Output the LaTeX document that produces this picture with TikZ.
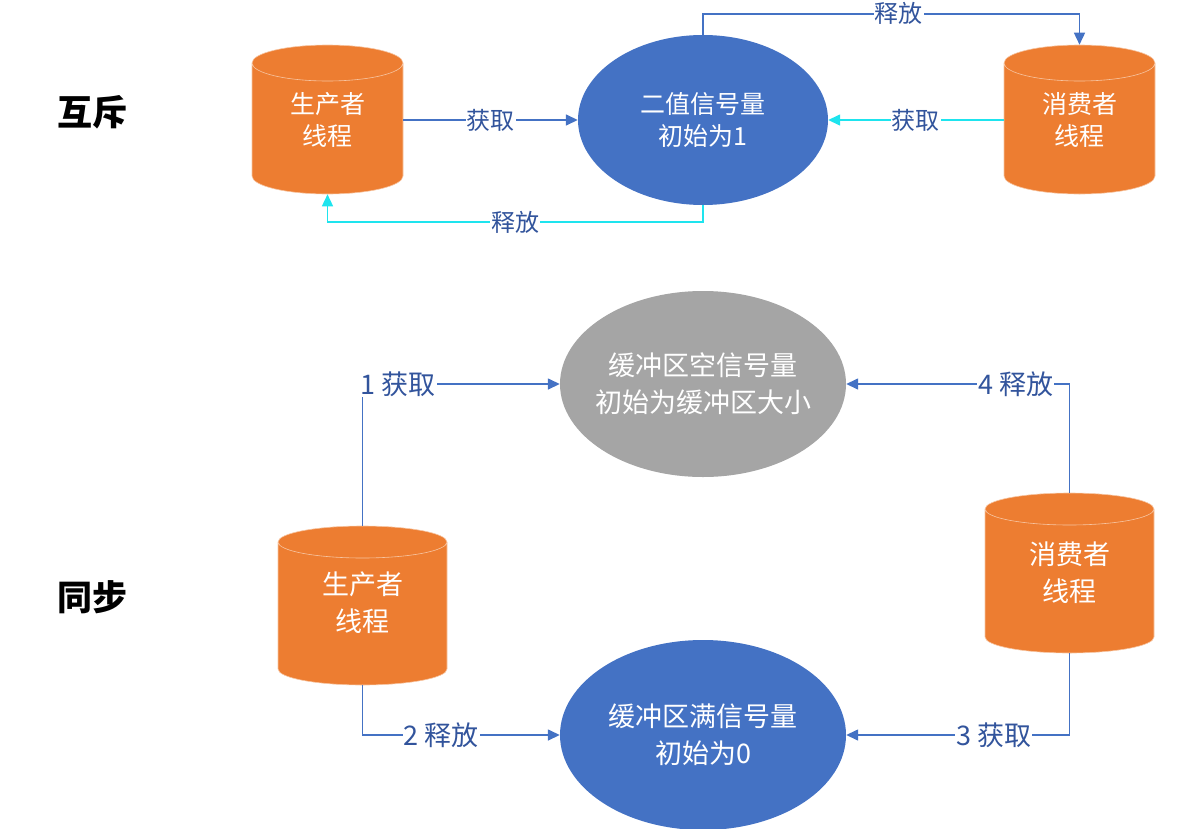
\documentclass[tikz,border=0pt]{standalone}
\usepackage{fontspec}
\setmainfont{Noto Sans CJK SC}
\usetikzlibrary{shapes.geometric,arrows.meta}

\definecolor{cylOrange}{RGB}{237,125,49}
\definecolor{semBlue}{RGB}{68,114,196}
\definecolor{semGray}{RGB}{165,165,165}
\definecolor{lineBlue}{RGB}{68,114,196}
\definecolor{lineCyan}{RGB}{30,228,238}
\definecolor{lblBlue}{RGB}{50,84,156}

\tikzset{
  thread/.style={cylinder, shape border rotate=90, anchor=shape center, aspect=0.5,
    draw=white!55!cylOrange, line width=0.6pt, fill=cylOrange},
  sem/.style={ellipse, inner sep=0pt},
  semtext/.style={text=white, align=center},
  link/.style={draw=lineBlue, line width=1.5pt, line join=miter,
    -{Triangle[length=12pt,width=11pt]}},
  linkc/.style={link, draw=lineCyan},
  lbl/.style={fill=white, text=lblBlue, inner sep=1pt},
  title/.style={font=\fontsize{35}{40}\selectfont\bfseries},
  topfont/.style={font=\fontsize{25}{32}\selectfont},
  lblfont/.style={font=\fontsize{24}{28}\selectfont},
  lowfont/.style={font=\fontsize{27}{37}\selectfont}
}

\begin{document}
\begin{tikzpicture}[x=1pt,y=-1pt]
\useasboundingbox (0,0) rectangle (1192,828);

% mutual exclusion
\node[title] (tMutex) at (92,112) {互斥};
\node[thread, inner sep=36pt, minimum width=151pt, minimum height=149pt] (p1) at (327.5,119.5) {};
\node[semtext, topfont] (p1t) at (p1.shape center) {生产者\\线程};
\node[thread, inner sep=36pt, minimum width=151pt, minimum height=149pt] (c1) at (1079.5,119.5) {};
\node[semtext, topfont] (c1t) at (c1.shape center) {消费者\\线程};
\node[sem, fill=semBlue, minimum width=250pt, minimum height=170pt,
  label={[semtext, topfont]center:二值信号量\\初始为1}] (s1) at (703,120) {};

\draw[link] (p1.east |- s1.west) -- node[lbl, lblfont] {获取} (s1.west);
\draw[linkc] (c1.west |- s1.east) -- node[lbl, lblfont] {获取} (s1.east);
\draw[link] (s1.north) -- ++(0,-21) -| node[lbl, lblfont, pos=0.26] {释放} (c1.north);
\draw[linkc] (s1.south) -- ++(0,17) -| node[lbl, lblfont, pos=0.25] {释放} (p1.south);

% synchronisation
\node[title] (tSync) at (92,597) {同步};
\node[sem, fill=semGray, minimum width=286pt, minimum height=186pt,
  label={[semtext, lowfont]center:缓冲区空信号量\\初始为缓冲区大小}] (e1) at (703,384) {};
\node[sem, fill=semBlue, minimum width=286pt, minimum height=190pt,
  label={[semtext, lowfont]center:缓冲区满信号量\\初始为0}] (e2) at (703,735) {};
\node[thread, inner sep=32pt, minimum width=169pt, minimum height=159pt] (p2) at (362.5,605.5) {};
\node[semtext, lowfont] (p2t) at ([yshift=3pt]p2.shape center) {生产者\\线程};
\node[thread, inner sep=32pt, minimum width=169pt, minimum height=160pt] (c2) at (1069.5,573) {};
\node[semtext, lowfont] (c2t) at (c2.shape center) {消费者\\线程};

\draw[link] (p2.north) |- node[lbl, lowfont, pos=0.59] {1 获取} (e1.west);
\draw[link] (c2.north) |- node[lbl, lowfont, pos=0.62] {4 释放} (e1.east);
\draw[link] (p2.south) |- node[lbl, lowfont, pos=0.70] {2 释放} (e2.west);
\draw[link] (c2.south) |- node[lbl, lowfont, pos=0.67] {3 获取} (e2.east);

\end{tikzpicture}
\end{document}
